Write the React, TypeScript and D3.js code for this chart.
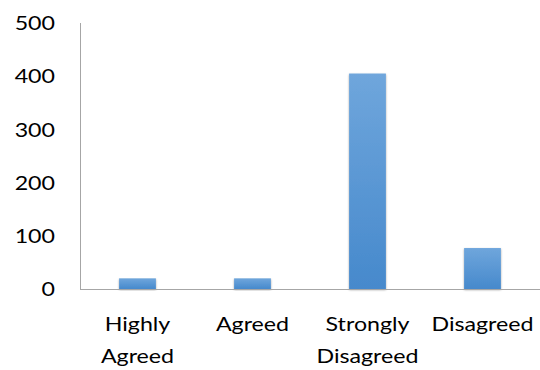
import React from "react";
import * as d3 from "d3";

const categories: string[] = ["Highly Agreed", "Agreed", "Strongly Disagreed", "Disagreed"];
const values: number[] = [20, 20, 405, 77];
const yTicks: number[] = [0, 100, 200, 300, 400, 500];

const W = 540;
const H = 370;
const margin = { top: 23, right: 0, bottom: 81, left: 80 };
const FONT = "Lato, 'Open Sans', sans-serif";
const FONT_SIZE = 20;
const STRETCH = 1.16;

export default function App() {
  const x = d3
    .scaleBand<string>()
    .domain(categories)
    .range([margin.left, W - margin.right])
    .paddingInner(0.68)
    .paddingOuter(0.34);
  const y = d3
    .scaleLinear()
    .domain([0, 500])
    .range([H - margin.bottom, margin.top]);

  const base = y(0);

  return (
    <div style={{ position: "absolute", left: 0, top: 0 }}>
      <svg width={W} height={H} style={{ display: "block", background: "#fff" }}>
        <defs>
          <linearGradient id="barFill" x1="0" y1="0" x2="0" y2="1">
            <stop offset="0%" stopColor="#6fa6dc" />
            <stop offset="100%" stopColor="#4689cc" />
          </linearGradient>
          <filter id="barShadow" x="-20%" y="-5%" width="140%" height="115%">
            <feGaussianBlur in="SourceAlpha" stdDeviation="1.2" />
            <feOffset dx="0" dy="1" result="blur" />
            <feComponentTransfer>
              <feFuncA type="linear" slope="0.35" />
            </feComponentTransfer>
            <feMerge>
              <feMergeNode />
              <feMergeNode in="SourceGraphic" />
            </feMerge>
          </filter>
        </defs>

        {/* y tick labels */}
        {yTicks.map((t) => (
          <text
            key={t}
            transform={`translate(55,${y(t)}) scale(${STRETCH},1)`}
            dy="0.36em"
            textAnchor="end"
            fontFamily={FONT}
            fontSize={FONT_SIZE}
            fill="#000"
          >
            {t}
          </text>
        ))}

        {/* bars */}
        {categories.map((c, i) => (
          <rect
            key={c}
            x={x(c)}
            y={y(values[i])}
            width={x.bandwidth()}
            height={base - y(values[i])}
            fill="url(#barFill)"
            filter="url(#barShadow)"
          />
        ))}

        {/* axes */}
        <line x1={margin.left + 0.5} x2={margin.left + 0.5} y1={margin.top} y2={base} stroke="#a6a6a6" strokeWidth={1} />
        <line x1={margin.left} x2={W} y1={base + 0.5} y2={base + 0.5} stroke="#a6a6a6" strokeWidth={1} />

        {/* category labels, one word per line */}
        {categories.map((c) => {
          const cx = (x(c) as number) + x.bandwidth() / 2;
          const lines = c.split(" ");
          return (
            <g key={c} transform={`translate(${cx},0) scale(${STRETCH},1)`}>
              <text textAnchor="middle" fontFamily={FONT} fontSize={FONT_SIZE} fill="#000">
                {lines.map((ln, j) => (
                  <tspan key={j} x={0} y={331 + j * 32}>
                    {ln}
                  </tspan>
                ))}
              </text>
            </g>
          );
        })}
      </svg>
    </div>
  );
}
